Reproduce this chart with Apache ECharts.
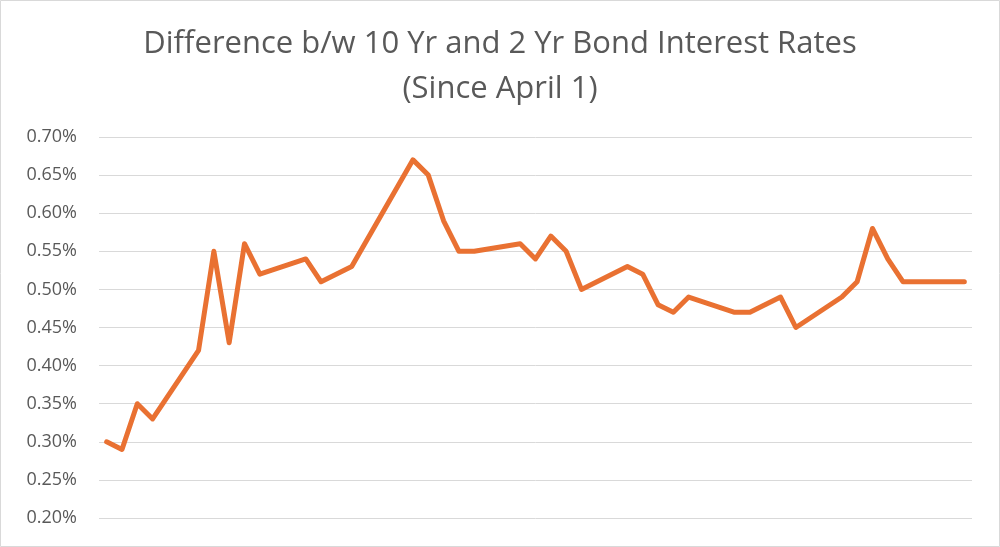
<!DOCTYPE html>
<html>
<head>
<meta charset="utf-8">
<title>10 Yr - 2 Yr spread</title>
<script src="https://cdn.jsdelivr.net/npm/echarts@6/dist/echarts.min.js"></script>
<style>
  html, body { margin: 0; padding: 0; background: #fff; }
  #chart { width: 1000px; height: 547px; }
</style>
</head>
<body>
<div id="chart"></div>
<script>
// trading days since April 1 (2025) and the 10Y - 2Y spread, in hundredths of a percent
const tradeDates = [
  '2025-04-01', '2025-04-02', '2025-04-03', '2025-04-04',
  '2025-04-07', '2025-04-08', '2025-04-09', '2025-04-10', '2025-04-11',
  '2025-04-14', '2025-04-15', '2025-04-17',
  '2025-04-21', '2025-04-22', '2025-04-23', '2025-04-24', '2025-04-25',
  '2025-04-28', '2025-04-29', '2025-04-30', '2025-05-01', '2025-05-02',
  '2025-05-05', '2025-05-06', '2025-05-07', '2025-05-08', '2025-05-09',
  '2025-05-12', '2025-05-13', '2025-05-15', '2025-05-16',
  '2025-05-19', '2025-05-20', '2025-05-21', '2025-05-22', '2025-05-23',
  '2025-05-27'
]
const spread = [
  30, 29, 35, 33,
  42, 55, 43, 56, 52,
  54, 51, 53,
  67, 65, 59, 55, 55,
  56, 54, 57, 55, 50,
  53, 52, 48, 47, 49,
  47, 47, 49, 45,
  49, 51, 58, 54, 51,
  51
]
const yTicks = [20, 25, 30, 35, 40, 45, 50, 55, 60, 65, 70]

const titleText = 'Difference b/w 10 Yr and 2 Yr Bond Interest Rates\n(Since April 1)'

// calendar axis (like an Excel date axis): every day gets a slot, gaps are joined
const months = ['Jan', 'Feb', 'Mar', 'Apr', 'May', 'Jun', 'Jul', 'Aug', 'Sep', 'Oct', 'Nov', 'Dec']
const days = []
const values = []
const byDate = {}
tradeDates.forEach((d, i) => { byDate[d] = spread[i] })
const start = new Date(tradeDates[0] + 'T00:00:00Z')
const end = new Date(tradeDates[tradeDates.length - 1] + 'T00:00:00Z')
for (let t = start.getTime(); t <= end.getTime(); t += 86400000) {
  const dt = new Date(t)
  const key = dt.toISOString().slice(0, 10)
  days.push(months[dt.getUTCMonth()] + ' ' + dt.getUTCDate())
  values.push(key in byDate ? byDate[key] : null)
}

const myChart = echarts.init(document.getElementById('chart'))

const options = {
  backgroundColor: '#fff',
  animation: false,
  title: {
    text: titleText,
    left: 'center',
    top: 17,
    textStyle: {
      fontFamily: 'Open Sans',
      fontWeight: 'normal',
      fontSize: 31,
      lineHeight: 45,
      color: '#595959'
    }
  },
  graphic: [{
    type: 'rect',
    shape: { x: 0.5, y: 0.5, width: 999, height: 546 },
    style: { fill: 'none', stroke: '#d9d9d9', lineWidth: 1 },
    silent: true
  }],
  grid: {
    left: 99,
    right: 28,
    top: 137,
    bottom: 29
  },
  xAxis: {
    type: 'category',
    data: days,
    boundaryGap: true,
    axisLine: { show: false },
    axisTick: { show: false },
    axisLabel: { show: false },
    splitLine: { show: false }
  },
  yAxis: {
    type: 'value',
    min: yTicks[0],
    max: yTicks[yTicks.length - 1],
    interval: yTicks[1] - yTicks[0],
    axisLine: { show: false },
    axisTick: { show: false },
    axisLabel: {
      margin: 22,
      fontFamily: 'Open Sans',
      fontSize: 18,
      color: '#595959',
      formatter: v => (v / 100).toFixed(2) + '%'
    },
    splitLine: {
      lineStyle: { color: '#d9d9d9', width: 1 }
    }
  },
  series: [{
    name: 'Spread',
    type: 'line',
    data: values,
    connectNulls: true,
    showSymbol: false,
    symbol: 'none',
    lineStyle: {
      color: '#E97132',
      width: 5,
      join: 'round',
      cap: 'round'
    }
  }]
}

myChart.setOption(options)
</script>
</body>
</html>
